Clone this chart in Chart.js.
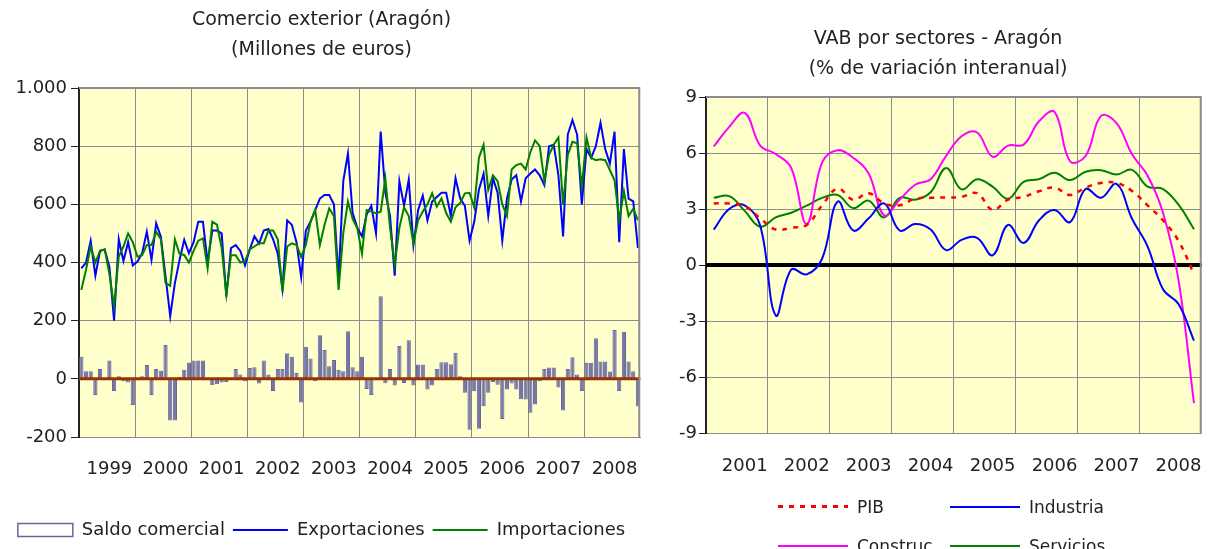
<!DOCTYPE html>
<html lang="es">
<head>
<meta charset="utf-8">
<title>Comercio exterior y VAB por sectores - Aragón</title>
<script src="https://cdn.jsdelivr.net/npm/chart.js@4.4.1/dist/chart.umd.min.js"></script>
<style>
  html, body { margin: 0; padding: 0; background: #fff; }
  body { position: relative; width: 1217px; height: 549px; overflow: hidden; font-family: "DejaVu Sans", sans-serif; }
  #comercio { position: absolute; left: 0; top: 0; }
  #vab { position: absolute; left: 660px; top: 0; }
  #vabLeyenda {
    position: absolute; left: 778px; top: 487px;
    display: grid; grid-template-columns: 172px auto; grid-auto-rows: 39px;
    font-size: 17px; color: #222;
  }
  #vabLeyenda .item { display: flex; align-items: center; white-space: nowrap; }
  #vabLeyenda .muestra { display: inline-block; width: 70px; height: 2px; margin-right: 9px; }
</style>
</head>
<body>
<canvas id="comercio" width="660" height="549"></canvas>
<canvas id="vab" width="557" height="549"></canvas>
<div id="vabLeyenda"></div>

<script>
// --- datos: comercio exterior mensual (millones de euros) ---
const anios = [1999, 2000, 2001, 2002, 2003, 2004, 2005, 2006, 2007, 2008];

const exportaciones = [
  380, 400, 475, 355, 440, 445, 385, 200, 480, 405, 470, 390,
  403, 432, 506, 409, 535, 489, 352, 215, 329, 409, 478, 432,
  470, 540, 540, 400, 510, 510, 500, 283, 450, 460, 440, 390,
  445, 490, 465, 510, 515, 480, 430, 310, 545, 530, 470, 350,
  510, 540, 580, 620, 632, 632, 600, 340, 680, 775, 570, 520,
  490, 565, 595, 500, 850, 640, 560, 355, 680, 595, 685, 460,
  580, 630, 545, 610, 625, 640, 640, 560, 690, 620, 595, 475,
  540, 650, 705, 560, 690, 640, 475, 620, 685, 700, 610, 690,
  706, 720, 700, 666, 800, 805, 700, 490, 840, 890, 840, 600,
  790, 760, 800, 880, 790, 740, 850, 470, 790, 620, 610, 450
];

const importaciones = [
  306, 375, 455, 400, 440, 445, 360, 250, 420, 455, 500, 470,
  420, 425, 460, 460, 506, 480, 330, 320, 480, 430, 426, 400,
  440, 475, 483, 380, 540, 530, 450, 289, 425, 425, 400, 405,
  445, 455, 466, 466, 510, 510, 480, 300, 455, 466, 460, 420,
  460, 540, 580, 460, 530, 586, 560, 306, 500, 610, 550, 518,
  430, 580, 575, 570, 575, 689, 520, 392, 520, 590, 560, 466,
  545, 575, 600, 638, 592, 620, 570, 540, 590, 605, 638, 640,
  590, 760, 805, 650, 700, 680, 600, 560, 720, 735, 740, 720,
  780, 820, 800, 680, 770, 805, 830, 600, 770, 815, 810, 660,
  830, 760, 752, 755, 752, 718, 683, 546, 645, 560, 585, 546
];

const saldoComercial = [
  76, 26, 26, -56, 34, 0, 63, -42, 9, -8, -13, -90,
  0, 9, 48, -56, 34, 28, 116, -143, -143, 7, 31, 56,
  63, 63, 63, -5, -22, -19, -13, -11, -4, 34, 15, -8,
  37, 40, -16, 63, 15, -42, 34, 34, 88, 76, 20, -81,
  110, 70, -8, 150, 99, 43, 65, 31, 26, 164, 40, 26,
  76, -35, -56, -5, 284, -15, 34, -23, 113, -14, 133, -23,
  49, 49, -37, -23, 34, 57, 57, 50, 90, 9, -48, -175,
  -43, -172, -94, -48, -11, -20, -138, -37, -16, -37, -70, -71,
  -117, -88, -8, 34, 39, 39, -30, -109, 34, 74, 15, -42,
  55, 55, 140, 60, 60, 25, 168, -42, 162, 60, 26, -95
];

// --- datos: VAB por sectores, trimestral (% variación interanual) ---
const aniosVab = [2001, 2002, 2003, 2004, 2005, 2006, 2007, 2008];

const pib = [3.3, 3.3, 3.15, 2.5, 1.9, 2.0, 2.15, 3.2, 4.1, 3.5, 3.85, 3.3, 3.2, 3.55, 3.6, 3.62,
  3.65, 3.85, 2.95, 3.5, 3.65, 3.95, 4.15, 3.75, 4.15, 4.4, 4.4, 3.97, 3.2, 2.39, 1.3, -0.5];
const industria = [1.9, 3.0, 3.2, 2.1, -2.7, -0.25, -0.5, 0.35, 3.4, 1.85, 2.5, 3.3, 1.85, 2.2, 1.9, 0.8,
  1.35, 1.46, 0.52, 2.15, 1.18, 2.4, 2.95, 2.3, 4.07, 3.6, 4.35, 2.48, 1.0, -1.3, -2.09, -4.05];
const construccion = [6.35, 7.4, 8.15, 6.4, 5.95, 5.2, 2.2, 5.5, 6.15, 5.75, 4.9, 2.67, 3.5, 4.3, 4.6, 5.85,
  6.9, 7.1, 5.8, 6.4, 6.45, 7.7, 8.2, 5.56, 5.84, 7.99, 7.6, 5.93, 4.8, 2.8, -0.8, -7.4];
const servicios = [3.6, 3.69, 2.9, 2.05, 2.55, 2.8, 3.18, 3.6, 3.75, 3.05, 3.45, 2.55, 3.6, 3.5, 3.9, 5.2,
  4.05, 4.6, 4.2, 3.55, 4.45, 4.6, 4.95, 4.55, 5.0, 5.08, 4.85, 5.1, 4.2, 4.07, 3.23, 1.92];

const meses = anios.flatMap(a => Array.from({ length: 12 }, (_, m) => a + '-' + String(m + 1).padStart(2, '0')));
const trimestres = aniosVab.flatMap(a => ['T1', 'T2', 'T3', 'T4'].map(t => a + ' ' + t));

Chart.defaults.font.family = '"DejaVu Sans", sans-serif';
Chart.defaults.font.size = 18;
Chart.defaults.color = '#222';

const gris = '#8c8c8c';
const amarillo = '#ffffcc';
const miles = new Intl.NumberFormat('de-DE');

// fondo amarillo, marco gris y linea del cero
function lineaCero(chart, opts) {
  const { ctx, chartArea: a, scales: { y } } = chart;
  const py = y.getPixelForValue(0);
  ctx.save();
  ctx.strokeStyle = opts.colorCero;
  ctx.lineWidth = opts.anchoCero;
  ctx.beginPath();
  ctx.moveTo(a.left, py);
  ctx.lineTo(a.right, py);
  ctx.stroke();
  ctx.restore();
}

const marco = {
  id: 'marco',
  beforeDraw(chart) {
    const { ctx, chartArea: a } = chart;
    ctx.save();
    ctx.fillStyle = amarillo;
    ctx.fillRect(a.left, a.top, a.width, a.height);
    ctx.restore();
  },
  beforeDatasetsDraw(chart, args, opts) {
    if (!opts.ceroEncima) lineaCero(chart, opts);
  },
  afterDatasetsDraw(chart, args, opts) {
    if (opts.ceroEncima) lineaCero(chart, opts);
  },
  afterDraw(chart) {
    const { ctx, chartArea: a } = chart;
    ctx.save();
    ctx.strokeStyle = gris;
    ctx.lineWidth = 2;
    ctx.beginPath();
    ctx.moveTo(a.left, a.top);
    ctx.lineTo(a.right - 1, a.top);
    ctx.lineTo(a.right - 1, a.bottom);
    ctx.stroke();
    ctx.restore();
  }
};

// ---- Comercio exterior ----
new Chart(document.getElementById('comercio'), {
  type: 'bar',
  plugins: [marco],
  data: {
    labels: meses,
    datasets: [
      {
        type: 'bar', label: 'Saldo comercial', data: saldoComercial,
        backgroundColor: '#7575a8', borderColor: '#666699', borderWidth: 1,
        barPercentage: 1, categoryPercentage: 0.9, order: 3
      },
      {
        type: 'line', label: 'Exportaciones', data: exportaciones,
        borderColor: '#0000ff', borderWidth: 2, pointRadius: 0, tension: 0,
        pointStyle: 'line', order: 2
      },
      {
        type: 'line', label: 'Importaciones', data: importaciones,
        borderColor: '#008000', borderWidth: 2, pointRadius: 0, tension: 0,
        pointStyle: 'line', order: 1
      }
    ]
  },
  options: {
    responsive: false,
    animation: false,
    devicePixelRatio: 1,
    layout: { padding: { left: 0, right: 17, top: 0, bottom: 0 } },
    plugins: {
      marco: { colorCero: '#993300', anchoCero: 3, ceroEncima: true },
      tooltip: { enabled: false },
      title: {
        display: true,
        text: ['Comercio exterior (Aragón)', '(Millones de euros)'],
        font: { size: 19, weight: 'normal', lineHeight: 1.58 },
        color: '#222',
        padding: { top: 5, bottom: 23 }
      },
      legend: {
        position: 'bottom',
        labels: {
          usePointStyle: true,
          pointStyleWidth: 55,
          boxHeight: 13,
          padding: 8,
          sort: (a, b) => a.datasetIndex - b.datasetIndex,
          generateLabels(chart) {
            const items = Chart.defaults.plugins.legend.labels.generateLabels(chart);
            return items.map(it => it.datasetIndex === 0
              ? Object.assign(it, { fillStyle: '#ffffff', strokeStyle: '#666699', lineWidth: 1.5, pointStyle: 'rect' })
              : Object.assign(it, { pointStyle: 'line' }));
          }
        }
      }
    },
    scales: {
      x: {
        offset: true,
        grid: {
          offset: true,
          drawTicks: false,
          color: c => (c.index % 12 === 0 && c.index > 0) ? gris : 'rgba(0,0,0,0)'
        },
        border: { display: true, color: gris, width: 1 },
        ticks: {
          autoSkip: false, maxRotation: 0, minRotation: 0, padding: 22,
          callback(v, i) { return i % 12 === 6 ? this.getLabelForValue(v).slice(0, 4) : ''; }
        },
        afterFit(s) { s.height = 76; }
      },
      y: {
        min: -200, max: 1000,
        ticks: { stepSize: 200, padding: 4, callback: v => miles.format(v) },
        grid: { color: gris, tickColor: '#222', tickLength: 8 },
        border: { color: '#222', width: 2 },
        afterFit(s) { s.width = 79; }
      }
    }
  }
});

// ---- VAB por sectores ----
const vab = new Chart(document.getElementById('vab'), {
  type: 'line',
  plugins: [marco],
  data: {
    labels: trimestres,
    datasets: [
      { label: 'PIB', data: pib, borderColor: '#ff0000', borderWidth: 2.5, borderDash: [5, 6] },
      { label: 'Industria', data: industria, borderColor: '#0000ff', borderWidth: 2 },
      { label: 'Construc', data: construccion, borderColor: '#ff00ff', borderWidth: 2 },
      { label: 'Servicios', data: servicios, borderColor: '#008000', borderWidth: 2 }
    ]
  },
  options: {
    responsive: false,
    animation: false,
    devicePixelRatio: 1,
    elements: { point: { radius: 0 }, line: { tension: 0.4 } },
    layout: { padding: { left: 0, right: 1, top: 0, bottom: 0 } },
    plugins: {
      marco: { colorCero: '#000000', anchoCero: 4, ceroEncima: false },
      tooltip: { enabled: false },
      legend: { display: false },
      title: {
        display: true,
        text: ['VAB por sectores - Aragón', '(% de variación interanual)'],
        font: { size: 19, weight: 'normal', lineHeight: 1.58 },
        color: '#222',
        padding: { top: 24, bottom: 13 }
      }
    },
    scales: {
      x: {
        offset: true,
        grid: {
          offset: true,
          drawTicks: false,
          color: c => (c.index % 4 === 0 && c.index > 0) ? gris : 'rgba(0,0,0,0)'
        },
        border: { display: true, color: gris, width: 1 },
        ticks: {
          autoSkip: false, maxRotation: 0, minRotation: 0, padding: 23,
          callback(v, i) { return i % 4 === 2 ? this.getLabelForValue(v).slice(0, 4) : ''; }
        },
        afterFit(s) { s.height = 116; }
      },
      y: {
        min: -9, max: 9,
        ticks: { stepSize: 3, padding: 2 },
        grid: { color: gris, tickColor: '#222', tickLength: 7 },
        border: { color: '#222', width: 2 },
        afterFit(s) { s.width = 46; }
      }
    }
  }
});

// leyenda en dos columnas, construida a partir de las series del gráfico
const leyenda = document.getElementById('vabLeyenda');
vab.data.datasets.forEach(ds => {
  const item = document.createElement('div');
  item.className = 'item';
  const muestra = document.createElement('span');
  muestra.className = 'muestra';
  muestra.style.background = ds.borderDash
    ? `repeating-linear-gradient(to right, ${ds.borderColor} 0 5px, transparent 5px 11px)`
    : ds.borderColor;
  if (ds.borderDash) muestra.style.height = '3px';
  item.appendChild(muestra);
  item.appendChild(document.createTextNode(ds.label));
  leyenda.appendChild(item);
});
</script>
</body>
</html>
